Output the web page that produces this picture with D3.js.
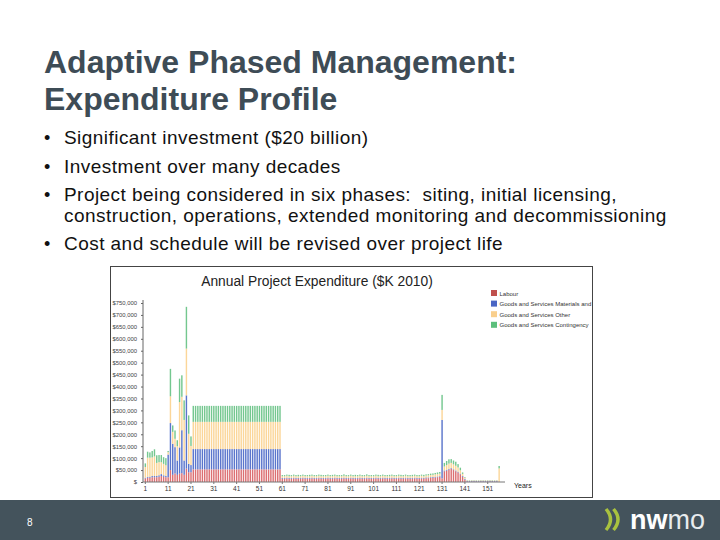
<!DOCTYPE html>
<html><head><meta charset="utf-8">
<script src="https://cdn.jsdelivr.net/npm/d3@7"></script>
<style>html,body{margin:0;padding:0;background:#fff;}svg{display:block;}</style>
</head><body>
<svg id="c" width="720" height="540"></svg>
<script>
// ---- data (values in axis units, $) ----
const seriesNames = ["Labour","Goods and Services Materials and Equipment","Goods and Services Other","Goods and Services Contingency"];
const seriesColors = ["#dc6f72","#5a75cc","#fbd699","#74c78f"];
const legendColors = ["#c0504d","#4a66c4","#f9cf8c","#5cbf7c"];
const years = [1,2,3,4,5,6,7,8,9,10,11,12,13,14,15,16,17,18,19,20,21,22,23,24,25,26,27,28,29,30,31,32,33,34,35,36,37,38,39,40,41,42,43,44,45,46,47,48,49,50,51,52,53,54,55,56,57,58,59,60,61,62,63,64,65,66,67,68,69,70,71,72,73,74,75,76,77,78,79,80,81,82,83,84,85,86,87,88,89,90,91,92,93,94,95,96,97,98,99,100,101,102,103,104,105,106,107,108,109,110,111,112,113,114,115,116,117,118,119,120,121,122,123,124,125,126,127,128,129,130,131,132,133,134,135,136,137,138,139,140,141,142,143,144,145,146,147,148,149,150,151,152,153,154,155,156,157];
// thousands of dollars per year
const labour = [15,18,18,20,20,20,22,25,22,20,20,50,30,36,30,35,37,30,56,41,41,
 53,53,53,53,53,53,53,53,53,53,53,53,53,53,53,53,53,53,53,53,53,53,53,53,53,53,53,53,53,53,53,53,53,53,53,53,53,53,53,
 14,14,15,14,14,15,14,14,14,15,14,14,14,15,14,14,15,14,14,14,15,14,14,15,14,14,14,15,14,14,15,14,14,14,15,14,14,15,14,14,14,15,14,14,15,14,14,14,15,14,14,15,14,14,15,14,14,14,15,14,14,15,14,
 16,16,17,18,19,20,21,15,45,48,52,55,50,45,40,32,22,10,2,2,2,2,2,2,2,2,2,2,2,2,2,2,2,0];
const materials = [3,4,4,5,5,5,6,8,6,5,95,197,130,110,60,110,180,60,307,35,30,
 85,85,85,85,85,85,85,85,85,85,85,85,85,85,85,85,85,85,85,85,85,85,85,85,85,85,85,85,85,85,85,85,85,85,85,85,85,85,85,
 3,3,3,3,3,3,3,3,3,3,3,3,3,3,3,3,3,3,3,3,3,3,3,3,3,3,3,3,3,3,3,3,3,3,3,3,3,3,3,3,3,3,3,3,3,3,3,3,3,3,3,3,3,3,3,3,3,3,3,3,3,3,3,
 3,3,3,3,3,3,3,245,3,3,3,3,3,3,3,3,3,3,3,3,3,3,3,3,3,3,3,3,3,3,3,3,0,0];
const other = [45,80,80,78,82,55,55,50,48,45,10,112,50,35,60,190,140,170,196,126,80,
 114,114,114,114,114,114,114,114,114,114,114,114,114,114,114,114,114,114,114,114,114,114,114,114,114,114,114,114,114,114,114,114,114,114,114,114,114,114,114,
 7,7,8,7,7,8,7,7,7,8,7,7,7,8,7,7,8,7,7,7,8,7,7,8,7,7,7,8,7,7,8,7,7,7,8,7,7,8,7,7,7,8,7,7,8,7,7,7,8,7,7,8,7,7,8,7,7,7,8,7,7,8,7,
 8,9,9,9,10,10,11,42,17,20,22,22,21,20,18,14,9,4,2,2,2,2,2,2,2,2,2,2,2,2,2,2,55,0];
const contingency = [15,25,22,27,30,32,30,30,28,30,5,115,27,35,25,98,90,82,175,77,40,
 67,67,67,67,67,67,67,67,67,67,67,67,67,67,67,67,67,67,67,67,67,67,67,67,67,67,67,67,67,67,67,67,67,67,67,67,67,67,67,
 5,5,5,6,5,5,5,6,5,5,5,5,6,5,5,5,5,6,5,5,5,5,6,5,5,5,5,6,5,5,5,5,6,5,5,5,5,6,5,5,5,5,6,5,5,5,5,6,5,5,5,5,6,5,5,5,5,6,5,5,5,5,6,
 5,5,6,6,6,7,7,63,15,17,18,16,16,17,14,11,6,3,1,1,1,1,1,1,1,1,1,1,1,1,1,1,10,0];
const xTickYears = [1,11,21,31,41,51,61,71,81,91,101,111,121,131,141,151];
const yTicks = [0,50000,100000,150000,200000,250000,300000,350000,400000,450000,500000,550000,600000,650000,700000,750000];
const titleLines = ["Adaptive Phased Management:","Expenditure Profile"];
const bullets = [["Significant investment ($20 billion)"],["Investment over many decades"],["Project being considered in six phases:  siting, initial licensing,","construction, operations, extended monitoring and decommissioning"],["Cost and schedule will be revised over project life"]];

const FONT = "Liberation Sans, Arial, sans-serif";
const svg = d3.select("#c");
// title
const tt = svg.append("text").attr("font-family",FONT).attr("font-weight","bold").attr("font-size",32).attr("fill","#3e4c56");
titleLines.forEach((t,i)=>tt.append("tspan").attr("x",44).attr("y",73+i*37).text(t));
// bullets
let by = 144;
bullets.forEach((b,i)=>{
  svg.append("text").attr("x",44).attr("y",by).attr("font-family",FONT).attr("font-size",18).attr("fill","#111").text("•");
  b.forEach((line,j)=>{
    svg.append("text").attr("x",64).attr("y",by + j*20.5).attr("font-family",FONT).attr("font-size",19).attr("letter-spacing",0.45).attr("fill","#111").style("white-space","pre").text(line);
  });
  by += 28.5 + (b.length-1)*20.5;
});

// chart box
svg.append("rect").attr("x",110.5).attr("y",266.5).attr("width",482).attr("height",231).attr("fill","#fff").attr("stroke","#444").attr("stroke-width",1);
svg.append("defs").append("clipPath").attr("id","box").append("rect").attr("x",111).attr("y",267).attr("width",481).attr("height",230);
svg.append("text").attr("x",317).attr("y",285.5).attr("text-anchor","middle").attr("font-family",FONT).attr("font-size",13.8).attr("fill","#222").text("Annual Project Expenditure ($K 2010)");

const x = d3.scaleBand().domain(years).range([144.4, 144.4 + 157*2.28]).paddingInner(0.38).paddingOuter(0.1);
const y = d3.scaleLinear().domain([0,750000]).range([482, 303]);

const table = years.map((yr,i)=>({year:yr, s0:labour[i]*1000, s1:materials[i]*1000, s2:other[i]*1000, s3:contingency[i]*1000}));
const stack = d3.stack().keys(["s0","s1","s2","s3"])(table);
svg.append("g").selectAll("g").data(stack).join("g").attr("fill",(d,i)=>seriesColors[i])
  .selectAll("rect").data(d=>d).join("rect")
  .attr("x",d=>x(d.data.year)).attr("width",x.bandwidth())
  .attr("y",d=>y(d[1])).attr("height",d=>Math.max(0,y(d[0])-y(d[1])));

// y axis
const fmt = d3.format(",");
const yAxis = d3.axisLeft(y).tickValues(yTicks).tickSize(2).tickFormat(v=> v===0 ? "$" : "$"+fmt(v));
const gy = svg.append("g").attr("transform","translate(143,0)").call(yAxis);
gy.select(".domain").attr("stroke","#666").attr("d","M0,300V482");
gy.selectAll(".tick line").attr("stroke","#666");
gy.selectAll("text").attr("font-family",FONT).attr("font-size",5.9).attr("fill","#444").attr("dx",-1);

// x axis
const xAxis = d3.axisBottom(x).tickValues(xTickYears).tickSize(2).tickPadding(2);
const gx = svg.append("g").attr("transform","translate(0,482)").call(xAxis);
gx.select(".domain").attr("stroke","#777").attr("d","M143,0H505");
gx.selectAll(".tick line").attr("stroke","#777");
gx.selectAll("text").attr("font-family",FONT).attr("font-size",6.5).attr("fill","#333");
svg.append("text").attr("x",514).attr("y",488).attr("font-family",FONT).attr("font-size",7).attr("fill","#222").text("Years");

// legend
const lg = svg.append("g").attr("clip-path","url(#box)");
seriesNames.forEach((n,i)=>{
  lg.append("rect").attr("x",491).attr("y",290+i*10.6).attr("width",6).attr("height",6).attr("fill",legendColors[i]);
  lg.append("text").attr("x",499.5).attr("y",295.5+i*10.6).attr("font-family",FONT).attr("font-size",6).attr("fill","#333").text(n);
});

// footer
svg.append("rect").attr("x",0).attr("y",500).attr("width",720).attr("height",40).attr("fill","#44535c");
svg.append("text").attr("x",27).attr("y",526).attr("font-family",FONT).attr("font-size",10).attr("fill","#fff").text("8");
const logo = svg.append("g");
logo.append("path").attr("d","M606,509 Q615,519.5 606,530").attr("fill","none").attr("stroke","#a9c23f").attr("stroke-width",3.4);
logo.append("path").attr("d","M613.5,509 Q622.5,519.5 613.5,530").attr("fill","none").attr("stroke","#a9c23f").attr("stroke-width",3.4);
const lt = logo.append("text").attr("x",630).attr("y",529).attr("font-family",FONT).attr("font-size",27).attr("fill","#fff");
lt.append("tspan").attr("font-weight","bold").text("nw");
lt.append("tspan").attr("font-weight","normal").attr("fill","#e8ecee").text("mo");
</script>
</body></html>
